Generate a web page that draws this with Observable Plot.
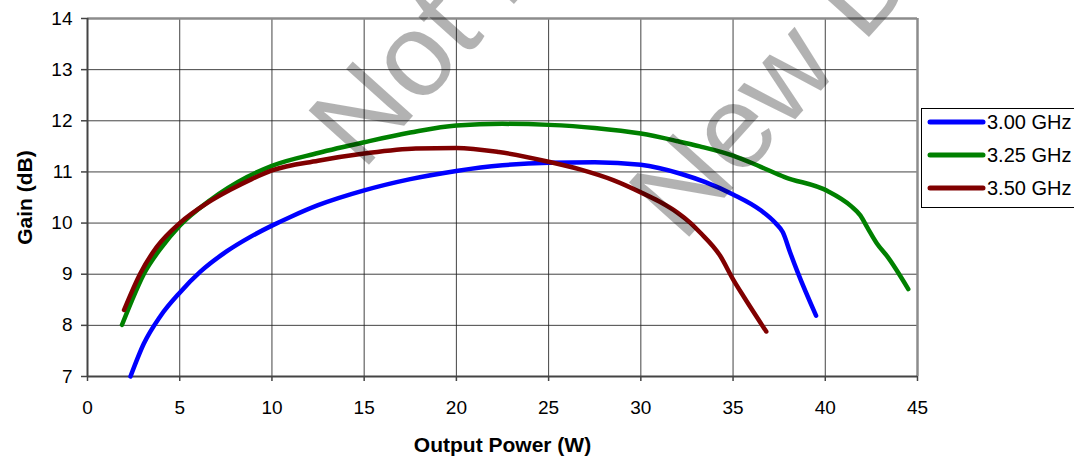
<!DOCTYPE html>
<html>
<head>
<meta charset="utf-8">
<script src="https://cdn.jsdelivr.net/npm/d3@7"></script>
<script src="https://cdn.jsdelivr.net/npm/@observablehq/plot@0.6"></script>
<style>
  html, body { margin: 0; padding: 0; background: #fff; }
  #chart svg { display: block; }
</style>
</head>
<body>
<div id="chart"></div>
<script>
// ---- data ----
const seriesNames = ["3.00 GHz", "3.25 GHz", "3.50 GHz"];
const seriesColors = ["#0000ff", "#008000", "#800000"];

const power300 = [2.33, 3.05, 3.95, 5, 6.12, 7.56, 8.83, 10, 11, 12.5, 15, 17.5, 20, 22.5, 25, 27.5, 30, 32.2, 33.5, 35, 36.5, 37.3, 37.7, 38.1, 38.5, 39.5];
const gain300  = [7.0, 7.64, 8.18, 8.64, 9.05, 9.45, 9.73, 9.95, 10.12, 10.35, 10.64, 10.86, 11.02, 11.13, 11.18, 11.19, 11.14, 10.96, 10.8, 10.56, 10.25, 10.0, 9.82, 9.42, 9.04, 8.19];

const power325 = [1.87, 2.4, 3.05, 3.96, 5, 6.66, 8.65, 10, 12.5, 15, 17.5, 20, 22.5, 25, 27.5, 30, 32, 33.2, 35, 36.5, 37.8, 40.1, 41.4, 41.9, 42.3, 42.8, 43.4, 44.5];
const gain325  = [8.01, 8.48, 9.0, 9.5, 9.95, 10.45, 10.9, 11.12, 11.37, 11.58, 11.77, 11.91, 11.94, 11.92, 11.86, 11.75, 11.6, 11.5, 11.32, 11.1, 10.9, 10.63, 10.33, 10.15, 9.9, 9.6, 9.33, 8.71];

const power350 = [1.98, 2.87, 3.77, 5, 6.48, 7.74, 8.9, 10, 12.5, 15, 17.8, 20, 22.3, 25, 26.7, 28.5, 30, 31, 32, 32.7, 33.2, 34.3, 35, 35.6, 36.8];
const gain350  = [8.3, 9.02, 9.54, 10.0, 10.39, 10.65, 10.86, 11.03, 11.22, 11.36, 11.46, 11.47, 11.39, 11.2, 11.05, 10.84, 10.6, 10.42, 10.2, 10.0, 9.82, 9.36, 8.9, 8.55, 7.88];

const xTicks = [0, 5, 10, 15, 20, 25, 30, 35, 40, 45];
const yTicks = [7, 8, 9, 10, 11, 12, 13, 14];
const xLabel = "Output Power (W)";
const yLabel = "Gain (dB)";
const watermarkLines = ["Not Recommended", "for", "New Designs"];

// ---- build table ----
const rows = [];
[[power300, gain300], [power325, gain325], [power350, gain350]].forEach(([p, g], i) => {
  p.forEach((v, j) => rows.push({series: seriesNames[i], power: v, gain: g[j]}));
});

const W = 1074, H = 456;
const mL = 87, mR = 157, mT = 18, mB = 80;

const plot = Plot.plot({
  width: W,
  height: H,
  marginLeft: mL,
  marginRight: mR,
  marginTop: mT,
  marginBottom: mB,
  style: {fontFamily: "'Liberation Sans', Arial, sans-serif", fontSize: "19px", color: "#000", background: "#fff"},
  x: {domain: [0, 45]},
  y: {domain: [7, 14]},
  color: {domain: seriesNames, range: seriesColors},
  marks: [
    Plot.gridX(xTicks, {stroke: "#222", strokeOpacity: 0.85, strokeWidth: 1}),
    Plot.gridY(yTicks, {stroke: "#222", strokeOpacity: 0.85, strokeWidth: 1}),
    Plot.ruleY([14], {stroke: "#8c8c8c", strokeWidth: 2.5}),
    Plot.ruleX([45], {stroke: "#8c8c8c", strokeWidth: 2.5}),
    Plot.ruleY([7], {stroke: "#444", strokeWidth: 2}),
    Plot.ruleX([0], {stroke: "#444", strokeWidth: 2}),
    Plot.axisX(xTicks, {tickSize: 5, tickPadding: 19, stroke: "#444", strokeWidth: 1.5, fontSize: 19, tickFormat: "d", label: null}),
    Plot.axisY(yTicks, {tickSize: 6, tickPadding: 9, stroke: "#444", strokeWidth: 1.5, fontSize: 19, tickFormat: "d", label: null}),
    Plot.line(rows, {x: "power", y: "gain", z: "series", stroke: "series", strokeWidth: 4.5, curve: "monotone-x", strokeLinecap: "round", strokeLinejoin: "round"}),
    Plot.text([xLabel], {frameAnchor: "bottom", dy: 69, lineAnchor: "middle", fontWeight: "bold", fontSize: 21, fill: "#000"}),
    Plot.text([yLabel], {frameAnchor: "left", dx: -62, rotate: -90, lineAnchor: "middle", textAnchor: "middle", fontWeight: "bold", fontSize: 21, fill: "#000"})
  ]
});

document.getElementById("chart").appendChild(plot);

// ---- legend ----
const svg = d3.select(plot);
const lg = svg.append("g").attr("class", "legend").attr("text-anchor", "start");
lg.append("rect")
  .attr("x", 921.5).attr("y", 108.5).attr("width", 170).attr("height", 99)
  .attr("fill", "#fff").attr("stroke", "#000").attr("stroke-width", 1);
seriesNames.forEach((name, i) => {
  const cy = 122 + i * 33;
  lg.append("line")
    .attr("x1", 930).attr("x2", 983).attr("y1", cy).attr("y2", cy)
    .attr("stroke", seriesColors[i]).attr("stroke-width", 5).attr("stroke-linecap", "round");
  lg.append("text")
    .attr("x", 987).attr("y", cy).attr("dy", "0.35em")
    .attr("text-anchor", "start")
    .attr("font-size", 20).attr("fill", "#000")
    .attr("font-family", "'Liberation Sans', Arial, sans-serif")
    .text(name);
});

// ---- watermark ----
const wm = svg.append("g")
  .attr("transform", "translate(809,-110) rotate(-48)")
  .attr("font-family", "'Liberation Sans', Arial, sans-serif")
  .attr("font-size", 118)
  .attr("fill", "#000")
  .attr("fill-opacity", 0.3)
  .attr("text-anchor", "middle")
  .style("pointer-events", "none");
watermarkLines.forEach((t, i) => {
  wm.append("text").attr("x", 0).attr("y", (i - 1) * 143).text(t);
});
</script>
</body>
</html>
